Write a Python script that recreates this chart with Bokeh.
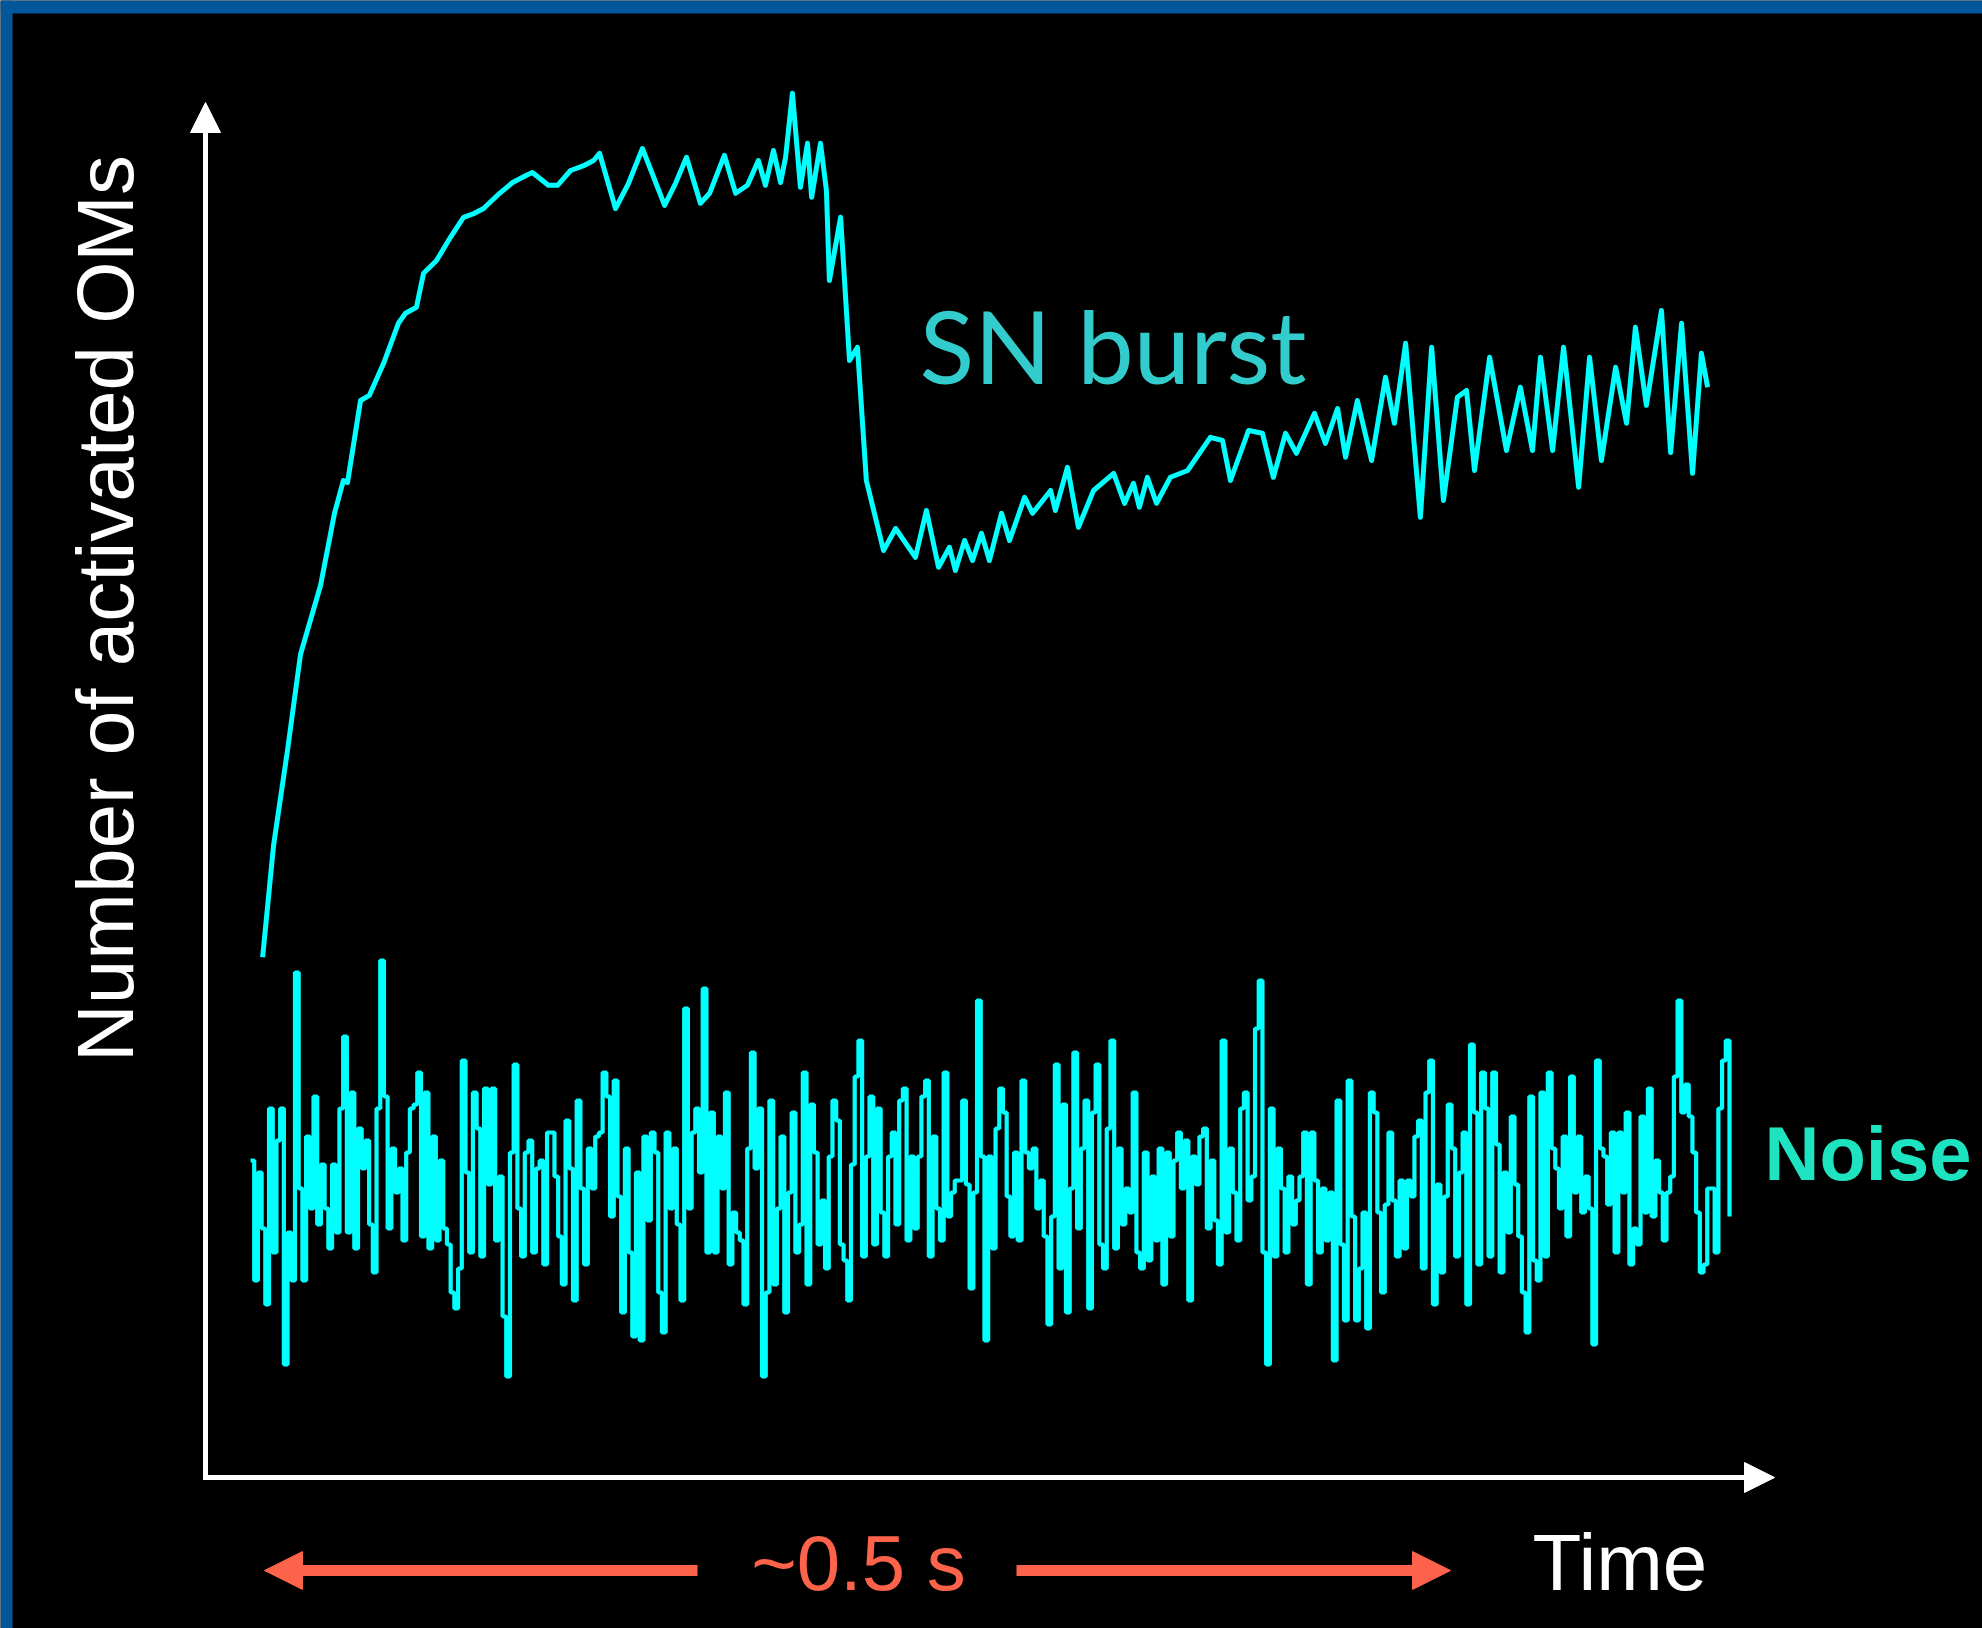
import numpy as np
from bokeh.plotting import figure
from bokeh.models import Range1d, Label, Arrow, NormalHead, BoxAnnotation
from bokeh.embed import file_html
from bokeh.resources import INLINE

# ---------------------------------------------------------------- data
# Supernova burst: summed count of activated optical modules vs. time
sn_time_ms = [4.1, 7.8, 12.5, 16.9, 23.7, 28.4, 31.4, 32.8, 37.2, 40.2,
              45.0, 50.0, 52.4, 56.1, 58.5, 62.9, 67.6, 72.0, 75.7, 78.8,
              84.2, 88.6, 93.3, 95.3, 100.7, 103.8, 108.2, 112.9, 116.0, 118.0,
              123.4, 127.8, 132.5, 140.0, 143.7, 147.4, 152.1, 155.2, 160.2, 164.0,
              168.0, 171.7, 174.1, 176.8, 179.2, 180.9, 183.2, 185.9, 188.3, 189.7,
              192.7, 194.7, 195.7, 199.5, 202.5, 205.2, 208.2, 214.0, 218.1, 224.8,
              228.5, 232.6, 236.3, 238.3, 241.4, 244.1, 247.1, 249.8, 253.9, 256.6,
              261.7, 264.4, 270.5, 272.1, 276.2, 279.9, 285.0, 291.8, 295.5, 298.5,
              300.5, 303.2, 306.3, 311.0, 316.8, 324.5, 328.6, 331.3, 337.4, 342.1,
              345.8, 349.9, 353.6, 359.7, 363.4, 367.5, 370.2, 374.2, 379.0, 383.7,
              386.7, 390.5, 395.5, 399.3, 403.3, 408.0, 411.1, 413.8, 418.9, 424.6,
              429.3, 433.4, 436.1, 440.2, 443.9, 449.0, 452.7, 456.7, 461.5, 465.2,
              468.2, 471.9, 477.0, 480.1, 483.8, 487.5, 490.5, 492.6]
sn_counts = [129.8, 157.8, 181.5, 205.5, 222.8, 240.8, 249.0, 248.5, 269.0, 270.3,
             278.3, 288.3, 290.8, 292.3, 300.8, 304.0, 309.8, 314.8, 315.8, 317.0,
             320.8, 323.5, 325.3, 326.0, 322.8, 322.8, 326.5, 327.8, 329.0, 330.8,
             317.0, 323.3, 332.0, 317.8, 323.3, 329.8, 318.3, 320.8, 330.3, 320.8,
             322.8, 329.0, 322.8, 331.5, 323.5, 329.8, 345.8, 322.3, 333.3, 319.8,
             333.3, 321.5, 299.0, 314.8, 279.0, 282.3, 249.0, 231.5, 237.0, 229.8,
             241.5, 227.3, 232.3, 226.5, 234.0, 229.0, 235.8, 229.0, 240.8, 234.0,
             244.8, 240.8, 246.5, 241.5, 252.3, 237.3, 246.5, 250.8, 243.3, 248.3,
             242.3, 249.8, 243.3, 249.8, 251.5, 259.8, 259.0, 249.0, 261.5, 260.8,
             249.8, 260.8, 255.8, 265.8, 258.3, 267.0, 254.8, 269.0, 254.0, 274.8,
             263.3, 283.3, 239.8, 282.3, 244.0, 269.8, 271.5, 251.5, 279.8, 256.5,
             272.3, 256.5, 279.8, 256.5, 282.3, 247.3, 279.8, 254.0, 277.3, 263.3,
             287.3, 267.8, 291.5, 256.0, 288.3, 250.8, 280.8, 272.3]

# Dark-noise count, sampled uniformly over the same 0.5 s window
noise_counts = [
    79, 49, 76, 62, 43, 92, 56, 84, 92, 28, 61, 49, 126, 72, 49, 85, 67, 95, 63, 78,
    67, 57, 78, 61, 92, 110, 61, 96, 57, 87, 77, 84, 63, 51, 92, 129, 95, 62, 82, 71,
    77, 59, 81, 92, 93, 101, 60, 96, 57, 85, 59, 79, 62, 58, 46, 42, 52, 104, 76, 56,
    96, 87, 55, 97, 73, 97, 59, 75, 40, 25, 81, 103, 67, 55, 81,
    84, 56, 77, 79, 53, 86, 86, 75, 60, 48, 89, 77, 44, 94, 72, 53, 82, 72, 85, 86,
    101, 95, 65, 99, 70, 41, 82, 56, 35, 76, 34, 85, 64, 86, 81, 46, 36, 86, 67, 82,
    63, 44, 117, 67, 86, 92, 76, 122, 56, 91, 56, 85, 72, 96, 53, 66, 61, 59, 43, 82,
    106, 77, 92, 25, 46, 94, 48, 67, 85, 41, 71, 91, 56,
    63, 101, 48, 93, 81, 58, 69, 52, 80, 94, 89, 58, 54, 44, 78, 100, 109, 55, 80, 95,
    58, 92, 66, 55, 80, 86, 63, 94, 97, 59, 80, 62, 80, 95, 99, 55, 85, 67, 59, 101,
    65, 71, 74, 74, 94, 73, 47, 71, 119, 80, 34, 80, 57, 87, 97, 91, 70, 60, 81, 59,
    99, 81, 77, 82, 67, 74, 60, 38, 65, 103, 52, 93, 41, 72, 106, 62, 82, 94, 42, 91,
    103,
    58, 52, 87, 109, 57, 82, 63, 72, 66, 96, 56, 52, 81, 54, 75, 59, 82, 48, 81, 60,
    79, 86, 72, 84, 44, 80, 73, 85, 87, 62, 79, 64, 53, 109, 61, 82, 71, 59, 92, 96,
    69, 75, 112, 124, 56, 28, 92, 55, 82, 72, 56, 75, 63, 69, 75, 86, 48, 86, 74, 56,
    72, 59, 71, 29, 94, 58, 39, 99, 65, 39, 52, 66, 37, 96, 91, 66, 46, 68, 86, 69,
    55, 74, 57, 74,
    70, 85, 89, 52, 96, 104, 43, 73, 51, 70, 93, 82, 55, 76, 86, 43, 108, 91, 53, 101,
    92, 55, 101, 83, 51, 76, 61, 90, 73, 60, 46, 36, 95, 54, 49, 96, 55, 101, 82, 77,
    67, 85, 60, 100, 71, 85, 66, 75, 67, 33, 104, 82, 80, 68, 86, 56, 86, 71, 91, 53,
    62, 58, 90, 66, 97, 65, 79, 71, 59, 71, 75, 100, 119, 91, 98, 90, 81, 66, 51, 53,
    72, 72, 56, 92, 104, 109, 65]
noise_span_ms = 500.0
noise_time_ms = np.linspace(0.0, noise_span_ms, len(noise_counts))

# Texts
y_title = "Number of activated OMs"
x_title = "Time"
span_text = "~0.5 s"
burst_text = "SN burst"
noise_text = "Noise"

# ---------------------------------------------------------------- layout
W, H = 1982, 1628
T0_PX, PX_PER_MS = 250.0, 2.958       # where t = 0 sits, horizontal scale
C0_PX, PX_PER_COUNT = 1476.0, 4.0     # where zero count sits, vertical scale

BLUE = "#03569a"
CYAN = "#00ffff"
RED = "#fd634a"

p = figure(width=W, height=H, output_backend="svg", toolbar_location=None,
           x_range=Range1d(0, W), y_range=Range1d(H, 0),
           min_border=0, background_fill_color="black",
           border_fill_color="black", outline_line_color=None)
p.axis.visible = False
p.grid.visible = False

p.extra_x_ranges = {"t": Range1d(-T0_PX / PX_PER_MS, (W - T0_PX) / PX_PER_MS)}
p.extra_y_ranges = {"n": Range1d(-(H - C0_PX) / PX_PER_COUNT, C0_PX / PX_PER_COUNT)}

# slide frame
p.add_layout(BoxAnnotation(left=0, right=W, top=0, bottom=13,
                           fill_color=BLUE, fill_alpha=1, line_color=None))
p.add_layout(BoxAnnotation(left=0, right=12, top=0, bottom=H,
                           fill_color=BLUE, fill_alpha=1, line_color=None))

# curves
p.step(noise_time_ms, noise_counts, mode="after", x_range_name="t", y_range_name="n",
       line_color=CYAN, line_width=4.2)
p.line(sn_time_ms, sn_counts, x_range_name="t", y_range_name="n",
       line_color=CYAN, line_width=5, line_join="round")

# hand-drawn axes
AX_X, AX_Y = 205, 1477
p.add_layout(Arrow(end=NormalHead(size=30, fill_color="white", line_color="white"),
                   x_start=AX_X - 2.5, y_start=AX_Y, x_end=1774, y_end=AX_Y,
                   line_color="white", line_width=5))
p.add_layout(Arrow(end=NormalHead(size=30, fill_color="white", line_color="white"),
                   x_start=AX_X, y_start=AX_Y + 2.5, x_end=AX_X, y_end=102,
                   line_color="white", line_width=5))

# ~0.5 s span arrows
p.add_layout(Arrow(end=NormalHead(size=38, fill_color=RED, line_color=RED),
                   x_start=697, y_start=1570, x_end=264, y_end=1570,
                   line_color=RED, line_width=11))
p.add_layout(Arrow(end=NormalHead(size=38, fill_color=RED, line_color=RED),
                   x_start=1016, y_start=1570, x_end=1450, y_end=1570,
                   line_color=RED, line_width=11))

# labels are anchored on the middle of their line box
sans = "Liberation Sans"
p.add_layout(Label(x=858, y=1562, text=span_text, text_align="center",
                   text_baseline="middle", text_color=RED,
                   text_font=sans, text_font_size="78px"))
p.add_layout(Label(x=1532, y=1562, text=x_title, text_align="left",
                   text_baseline="middle", text_color="white",
                   text_font=sans, text_font_size="80px"))
p.add_layout(Label(x=105, y=608, text=y_title, angle=np.pi / 2,
                   text_align="center", text_baseline="middle",
                   text_color="white", text_font=sans, text_font_size="80px"))
p.add_layout(Label(x=919, y=344, text=burst_text, text_align="left",
                   text_baseline="middle", text_color="#33cccc",
                   text_font="Lato", text_font_size="101px"))
p.add_layout(Label(x=1764, y=1153, text=noise_text, text_align="left",
                   text_baseline="middle", text_color="#1de3c0",
                   text_font=sans, text_font_style="bold", text_font_size="76px"))

open("out.html", "w").write(file_html(p, INLINE))
